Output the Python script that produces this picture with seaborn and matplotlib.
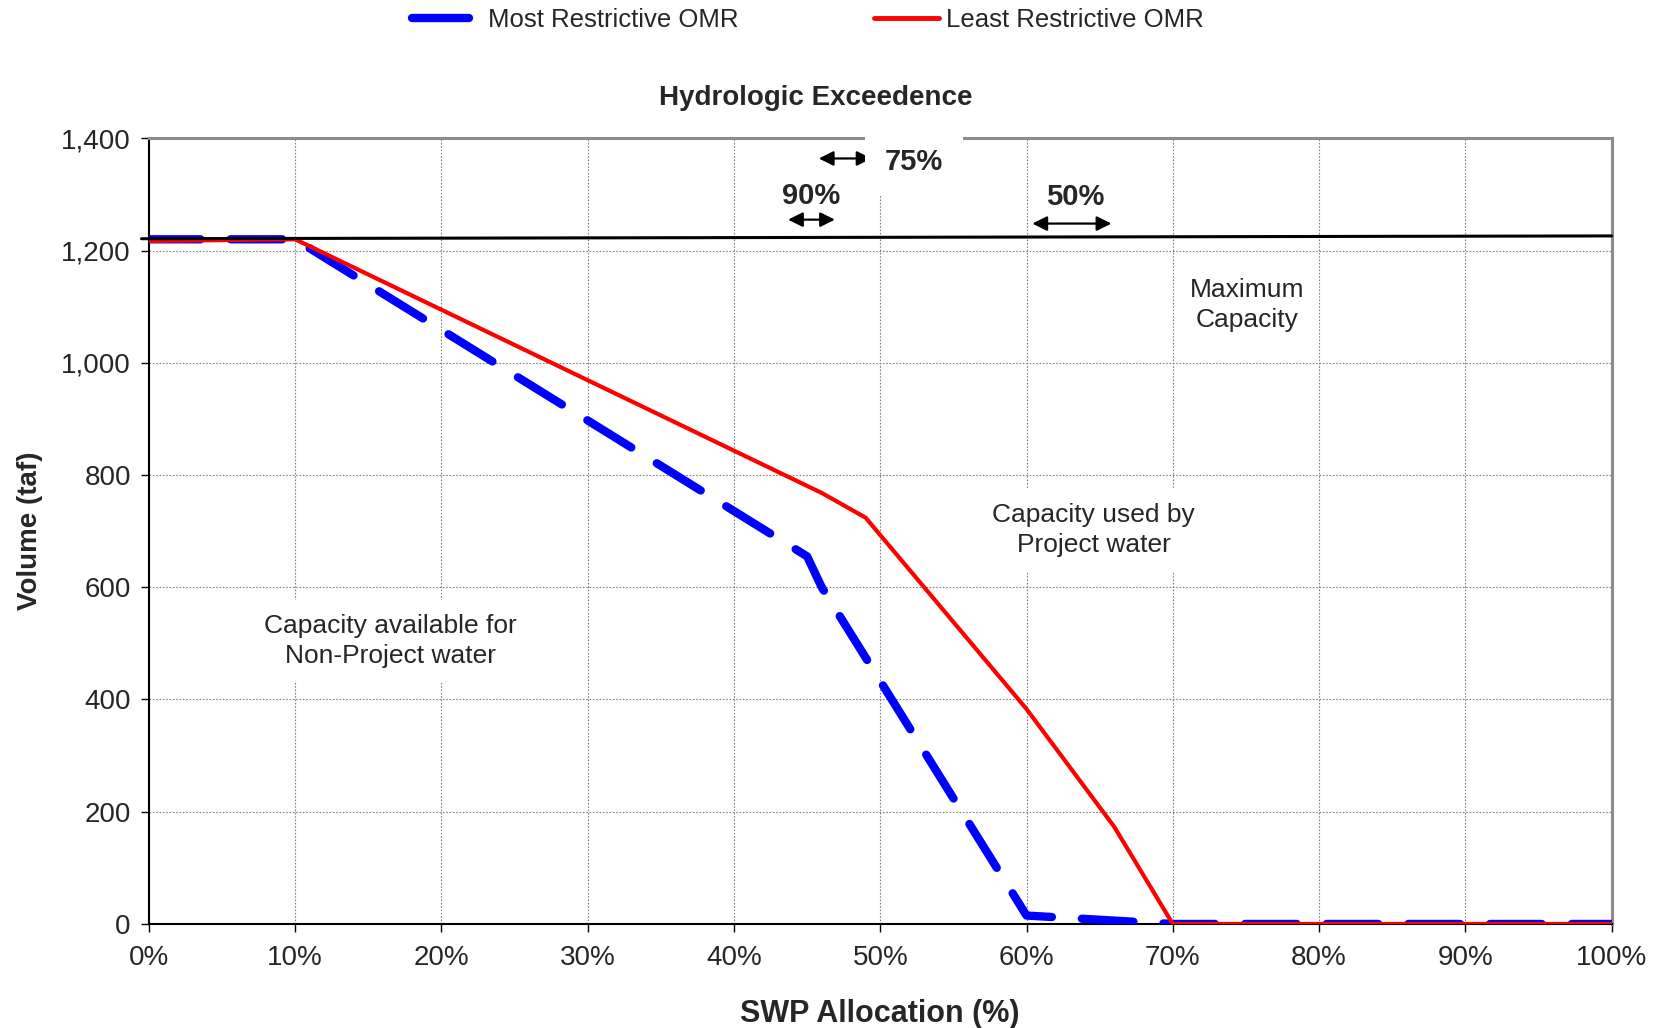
import matplotlib
matplotlib.use("Agg")
import matplotlib.pyplot as plt
from matplotlib.lines import Line2D
import seaborn as sns
import pandas as pd

# allocation (%) vs volume (taf)
most_x = [0, 10, 45, 46, 60, 68, 70, 100]
most_y = [1220, 1220, 655, 600, 15, 3, 0, 0]
least_x = [0, 10, 46, 49, 60, 66, 70, 100]
least_y = [1217, 1220, 768, 724, 383, 173, 0, 0]
maxcap_x = [-0.5, 100]
maxcap_y = [1221, 1226]

xticks = [0, 10, 20, 30, 40, 50, 60, 70, 80, 90, 100]
yticks = [0, 200, 400, 600, 800, 1000, 1200, 1400]

# exceedence ranges (allocation %)
exc_labels = ["90%", "75%", "50%"]
exc_lo = [43.7, 45.8, 60.4]
exc_hi = [46.9, 49.4, 65.8]

sns.set_theme(style="white")
plt.rcParams['font.family'] = ['Liberation Sans', 'DejaVu Sans']

df_most = pd.DataFrame({"x": most_x, "y": most_y})
df_least = pd.DataFrame({"x": least_x, "y": least_y})

fig = plt.figure(figsize=(16.56, 10.28), dpi=100)
ax = fig.add_axes([0.0899, 0.1012, 0.8833, 0.7643])

ax.plot(maxcap_x, maxcap_y, color="black", lw=2.2, zorder=6, clip_on=False)
sns.lineplot(data=df_most, x="x", y="y", ax=ax, color="#0000FF", lw=6,
             sort=False, zorder=4, linestyle=(0, (6.2, 3.6)),
             dash_capstyle="round")
sns.lineplot(data=df_least, x="x", y="y", ax=ax, color="#FF0000", lw=3,
             sort=False, zorder=5)

ax.set_xlim(0, 100)
ax.set_ylim(0, 1400)
ax.set_xticks(xticks)
ax.set_xticklabels([f"{v}%" for v in xticks])
ax.set_yticks(yticks)
ax.set_yticklabels([f"{v:,}" for v in yticks])
ax.tick_params(axis="both", labelsize=20, direction="out", length=6, width=1,
               color="black", left=True, bottom=True)
ax.tick_params(axis="x", pad=9)
ax.tick_params(axis="y", pad=7)
ax.grid(True, color="#808080", linestyle=(0, (1.5, 1.5)), lw=0.8)
ax.set_axisbelow(True)

for s in ["left", "bottom"]:
    ax.spines[s].set_color("black")
    ax.spines[s].set_linewidth(1.5)
for s in ["top", "right"]:
    ax.spines[s].set_color("#8c8c8c")
    ax.spines[s].set_linewidth(2.2)

ax.set_xlabel("SWP Allocation (%)", fontsize=22, fontweight="bold", labelpad=20)
ax.set_ylabel("Volume (taf)", fontsize=20, fontweight="bold", labelpad=13)
ax.set_title("Hydrologic Exceedence", fontsize=20, fontweight="bold", pad=24, x=0.456)

# exceedence arrows
arr = dict(arrowstyle="<|-|>", color="black", lw=1.6, mutation_scale=22,
           shrinkA=0, shrinkB=0)
ax.annotate("", xy=(exc_lo[0], 1255), xytext=(exc_hi[0], 1255), arrowprops=arr)
ax.text((exc_lo[0] + exc_hi[0]) / 2, 1297, exc_labels[0], ha="center", va="center",
        fontsize=21, fontweight="bold")
ax.annotate("", xy=(exc_lo[1], 1364), xytext=(exc_hi[1], 1364), arrowprops=arr)
ax.text(52.3, 1357, exc_labels[1], ha="center", va="center", fontsize=21,
        fontweight="bold", zorder=7, clip_on=False,
        bbox=dict(facecolor="white", edgecolor="none", pad=14))
ax.annotate("", xy=(exc_lo[2], 1248), xytext=(exc_hi[2], 1248), arrowprops=arr)
ax.text(63.3, 1295, exc_labels[2], ha="center", va="center", fontsize=21,
        fontweight="bold")

box = dict(facecolor="white", edgecolor="none", pad=10)
ax.text(75.1, 1103, "Maximum\nCapacity", ha="center", va="center", fontsize=19,
        linespacing=1.35, bbox=box, zorder=7)
ax.text(64.6, 702, "Capacity used by\nProject water", ha="center", va="center",
        fontsize=19, linespacing=1.35, bbox=box, zorder=7)
ax.text(16.5, 504, "Capacity available for\nNon-Project water", ha="center",
        va="center", fontsize=19, linespacing=1.35, bbox=box, zorder=7)

h_most = Line2D([], [], color="#0000FF", lw=6, solid_capstyle="round")
h_least = Line2D([], [], color="#FF0000", lw=3.5)
fig.legend([h_most], ["Most Restrictive OMR"], loc="center left",
           bbox_to_anchor=(0.249, 0.981), frameon=False, fontsize=18.5,
           handlelength=2.2, handletextpad=0.75, borderpad=0, borderaxespad=0)
fig.legend([h_least], ["Least Restrictive OMR"], loc="center left",
           bbox_to_anchor=(0.528, 0.981), frameon=False, fontsize=18.5,
           handlelength=2.5, handletextpad=0.3, borderpad=0, borderaxespad=0)

fig.savefig("out.png", dpi=100, facecolor="white")
